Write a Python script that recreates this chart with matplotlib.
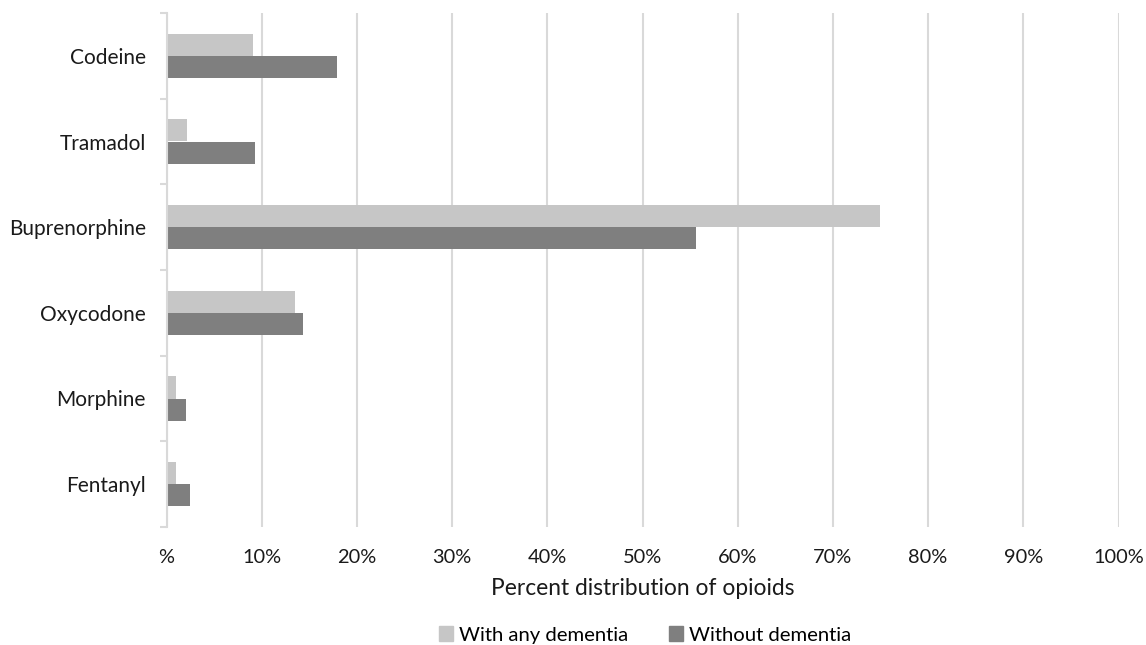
import matplotlib
matplotlib.use("Agg")
import matplotlib.pyplot as plt
import numpy as np
from matplotlib.patches import Patch

categories = ["Codeine", "Tramadol", "Buprenorphine", "Oxycodone", "Morphine", "Fentanyl"]
with_dementia = [9.1, 2.2, 74.9, 13.5, 1.0, 1.0]
without_dementia = [17.9, 9.3, 55.6, 14.3, 2.0, 2.5]
xtick_vals = [0, 10, 20, 30, 40, 50, 60, 70, 80, 90, 100]
xtick_labels = ["%", "10%", "20%", "30%", "40%", "50%", "60%", "70%", "80%", "90%", "100%"]
series_names = ["With any dementia", "Without dementia"]

light = "#c6c6c6"
dark = "#7f7f7f"
grid_c = "#d9d9d9"
text_c = "#1a1a1a"

plt.rcParams['font.family'] = ['Lato', 'DejaVu Sans']

fig = plt.figure(figsize=(11.46, 6.45), dpi=100)
W, H = 1146, 645
left, right, top, bottom = 166.5, 1118.5, 13, 527
ax = fig.add_axes([left / W, 1 - bottom / H, (right - left) / W, (bottom - top) / H])

y = np.arange(len(categories))
h = 0.257
ax.barh(y - h / 2, with_dementia, height=h, color=light, zorder=3)
ax.barh(y + h / 2, without_dementia, height=h, color=dark, zorder=3)

ax.set_xlim(0, 100)
ax.set_ylim(len(categories) - 0.5, -0.5)

ax.set_xticks(xtick_vals)
ax.set_xticklabels(xtick_labels, fontsize=14.4, color=text_c)
ax.tick_params(axis="x", length=0, pad=15.5)
ax.xaxis.grid(True, color=grid_c, linewidth=1.5, zorder=0)

ax.set_yticks(np.arange(len(categories) + 1) - 0.5)
ax.set_yticklabels([])
ax.tick_params(axis="y", which="major", length=5, width=1.5, color=grid_c, direction="out")
ax.set_yticks(y, minor=True)
ax.set_yticklabels(categories, minor=True, fontsize=15, color=text_c)
ax.tick_params(axis="y", which="minor", length=0, pad=15)

for s in ["top", "right", "bottom"]:
    ax.spines[s].set_visible(False)
ax.spines["left"].set_color(grid_c)
ax.spines["left"].set_linewidth(1.5)
ax.spines["left"].set_zorder(4)

ax.set_xlabel("Percent distribution of opioids", fontsize=16.4, color=text_c, labelpad=9)

handles = [Patch(color=light), Patch(color=dark)]
fig.legend(handles, series_names, loc="center", bbox_to_anchor=(645 / W, 1 - 635 / H),
           ncol=2, frameon=False, fontsize=14.6, handlelength=0.7, handleheight=0.7,
           handletextpad=0.3, columnspacing=2.0)

fig.savefig("out.png", dpi=100)
